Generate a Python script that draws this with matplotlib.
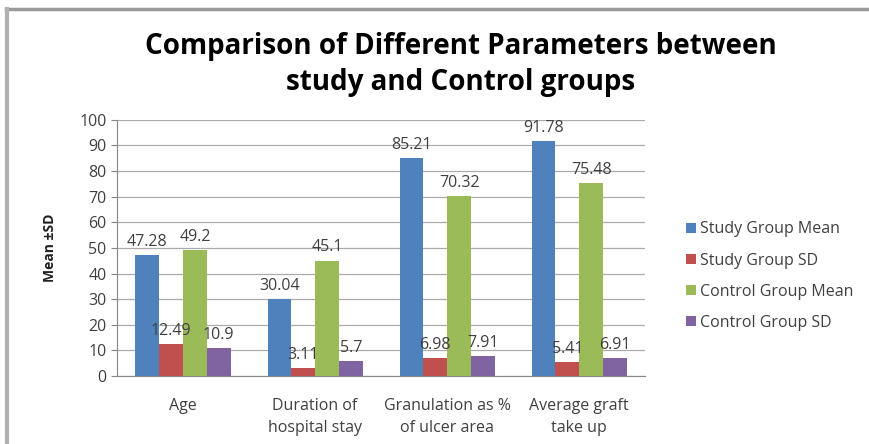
import matplotlib
matplotlib.use("Agg")
import matplotlib.pyplot as plt
from matplotlib.lines import Line2D
import numpy as np

# categories and series values
categories = ["Age", "Duration of\nhospital stay", "Granulation as %\nof ulcer area", "Average graft\ntake up"]
series_names = ["Study Group Mean", "Study Group SD", "Control Group Mean", "Control Group SD"]
study_mean = [47.28, 30.04, 85.21, 91.78]
study_sd = [12.49, 3.11, 6.98, 5.41]
control_mean = [49.2, 45.1, 70.32, 75.48]
control_sd = [10.9, 5.7, 7.91, 6.91]
y_ticks = [0, 10, 20, 30, 40, 50, 60, 70, 80, 90, 100]

colors = ["#4F81BD", "#C0504D", "#9BBB59", "#8064A2"]
series = [study_mean, study_sd, control_mean, control_sd]

plt.rcParams["font.family"] = ["Open Sans", "DejaVu Sans"]

fig = plt.figure(figsize=(8.69, 4.44), dpi=100)
ax = fig.add_axes([0.1346, 0.153, 0.608, 0.577])

x = np.arange(len(categories))
w = 0.18
for j, (vals, name, c) in enumerate(zip(series, series_names, colors)):
    pos = x + (j - 1.5) * w
    ax.bar(pos, vals, width=w, color=c, label=name, zorder=3)
    for px, v in zip(pos, vals):
        ax.text(px, v + 2, f"{v:g}", ha="center", va="bottom",
                fontsize=11.5, color="#404040", zorder=4)

ax.set_xlim(-0.5, 3.5)
ax.set_ylim(0, 100)
ax.set_yticks(y_ticks)
ax.set_xticks(x)
ax.set_xticklabels(categories, fontsize=11.5, color="#404040", linespacing=1.5)
ax.tick_params(axis="y", labelsize=11.5, labelcolor="#404040", length=4, color="#868686")
ax.tick_params(axis="x", length=0, pad=16)
ax.grid(axis="y", color="#ababab", linewidth=0.9, zorder=0)
for s in ["top", "right"]:
    ax.spines[s].set_visible(False)
ax.spines["left"].set_color("#868686")
ax.spines["bottom"].set_color("#868686")

ax.set_ylabel("Mean ±SD", fontsize=10, fontweight="bold", color="#202020", labelpad=16)

fig.text(0.53, 0.855, "Comparison of Different Parameters between\nstudy and Control groups",
         ha="center", va="center", fontsize=20, fontweight="bold", linespacing=1.3)

ax.legend(loc="center left", bbox_to_anchor=(1.05, 0.39), frameon=False,
          fontsize=11.5, labelcolor="#404040", handlelength=0.6, handleheight=0.6,
          handletextpad=0.3, labelspacing=0.95)

# outer chart frame
fig.add_artist(Line2D([6 / 869, 1], [1 - 9.5 / 444] * 2, color="#9a9a9a", lw=2.5, transform=fig.transFigure))
fig.add_artist(Line2D([6.5 / 869] * 2, [0, 1 - 9.5 / 444], color="#b0b0b0", lw=3, transform=fig.transFigure))

fig.savefig("out.png", dpi=100)
